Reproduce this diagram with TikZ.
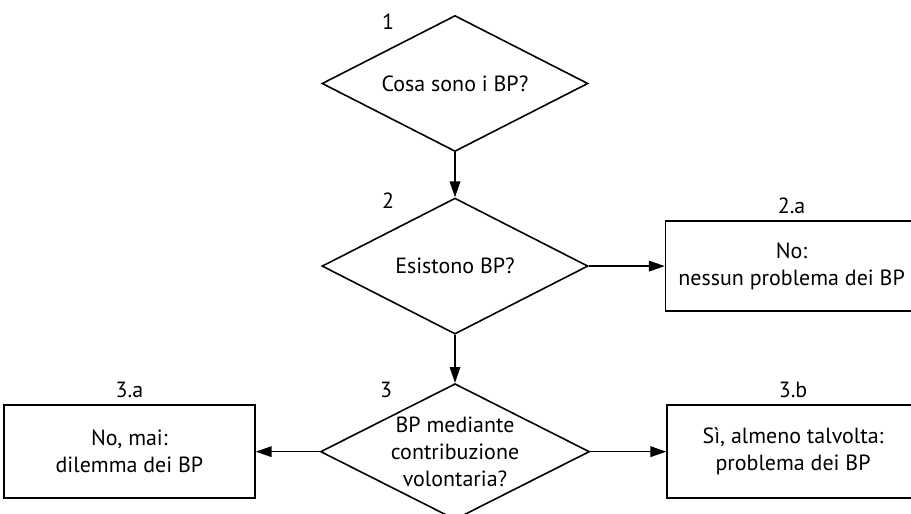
\documentclass[tikz,border=0pt]{standalone}
\usepackage{fontspec}
\setmainfont{PT Sans}
\usetikzlibrary{shapes,positioning,calc,arrows.meta}

\begin{document}
\begin{tikzpicture}[domanda/.style={diamond, draw, line width=0.9pt, minimum width=5.32cm, minimum height=2.72cm, inner sep=0pt, aspect=2, align=center}, esito/.style={rectangle, draw, line width=0.9pt, minimum width=5.04cm, minimum height=1.84cm, align=center}, titolo/.style={inner sep=0pt}, freccia/.style={line width=0.9pt, -{Triangle[length=9pt,width=6pt]}}, font=\fontsize{12.5}{15.5}\selectfont]

\useasboundingbox (0,0) rectangle (18.22,-10.28);

% DOMANDE

\node [domanda] (domanda-1) at (9.1,-1.67) {Cosa sono i BP?};

\node [domanda, below=0.9cm of domanda-1] (domanda-2) {Esistono BP?};

\node [domanda, below=0.96cm of domanda-2] (domanda-3) {BP mediante\\contribuzione\\volontaria?};

\node [titolo] (domanda-1-titolo) at ($(domanda-1.north)+(-1.34,-0.14)$) {1};
\node [titolo] (domanda-2-titolo) at ($(domanda-2.north)+(-1.34,-0.06)$) {2};
\node [titolo] (domanda-3-titolo) at ($(domanda-3.north)+(-1.38,-0.14)$) {3};

% ESITI

\node [esito, minimum height=1.8cm, right=1.52cm of domanda-2] (esito-2a) {No:\\nessun problema dei BP};
\node [titolo, above=0.13cm of esito-2a] (esito-2a-titolo) {2.a};

\node [esito, minimum height=1.86cm, left=1.28cm of domanda-3, minimum width=5.02cm] (esito-3a) {No, mai:\\dilemma dei BP};
\node [titolo, above=0.13cm of esito-3a] (esito-3a-titolo) {3.a};

\node [esito, minimum height=1.86cm, right=1.52cm of domanda-3] (esito-3b) {Sì, almeno talvolta:\\problema dei BP};
\node [titolo, above=0.13cm of esito-3b] (esito-3b-titolo) {3.b};

% FRECCE

\draw [freccia] (domanda-1) -- (domanda-2);
\draw [freccia] (domanda-2) -- (esito-2a);
\draw [freccia] (domanda-2) -- (domanda-3);
\draw [freccia] (domanda-3) -- (esito-3a);
\draw [freccia] (domanda-3) -- (esito-3b);

\end{tikzpicture}
\end{document}
